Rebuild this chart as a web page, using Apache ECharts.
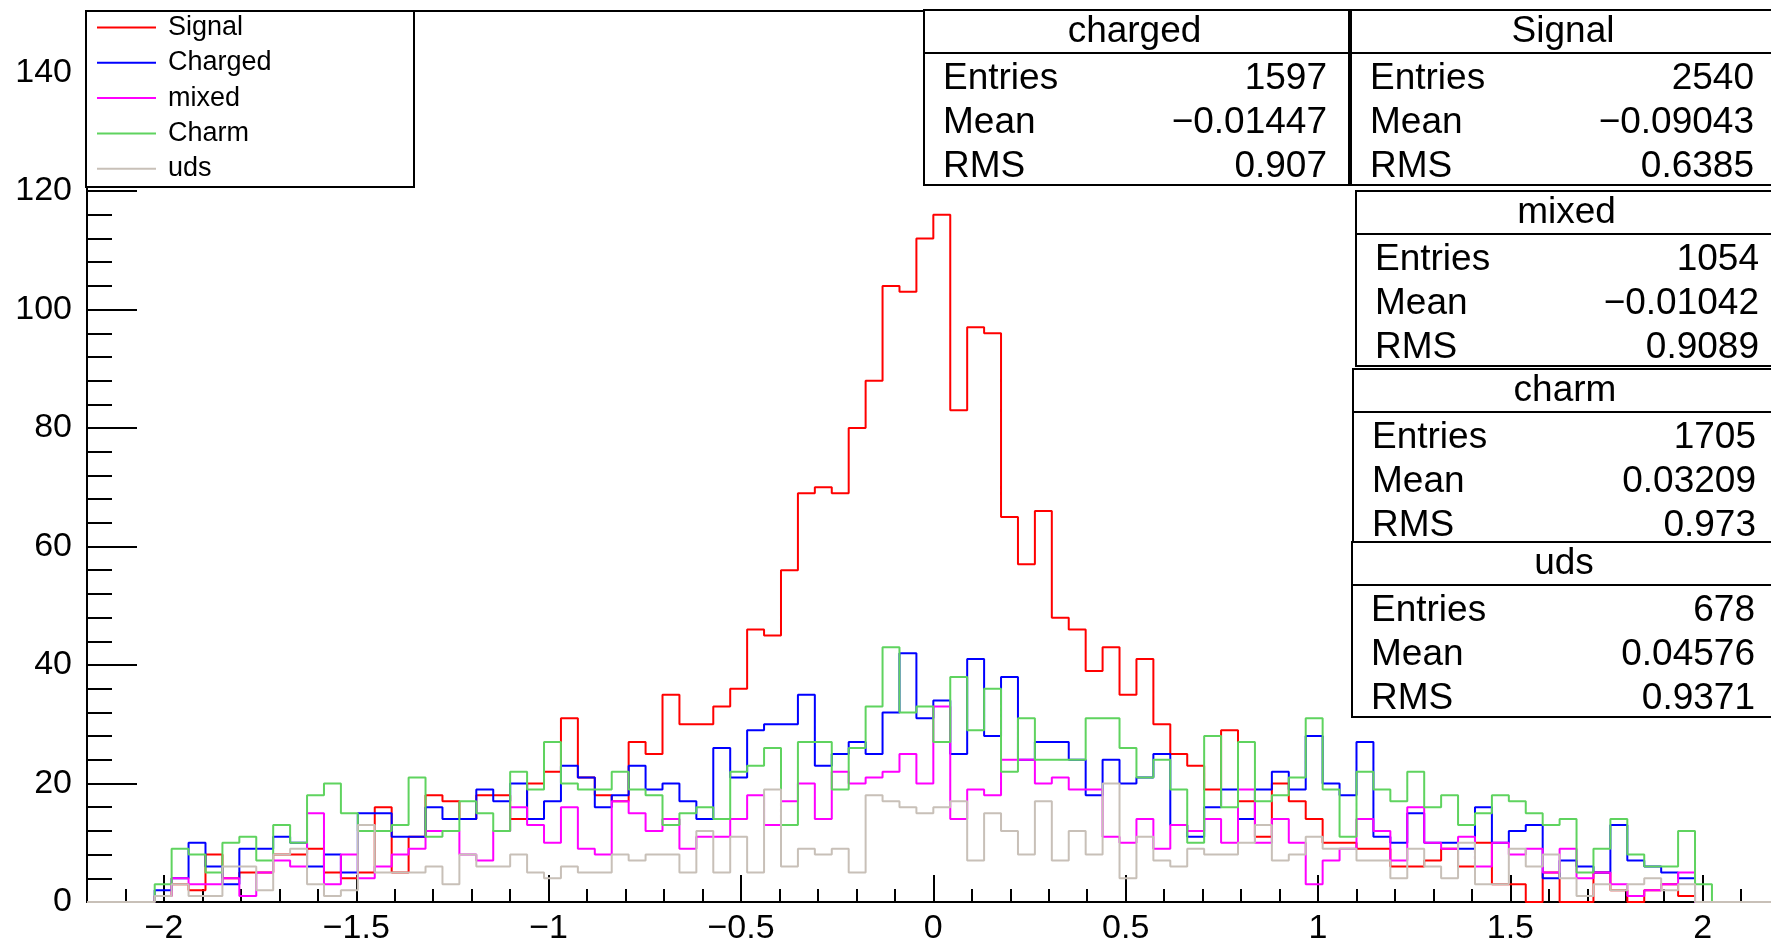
<!DOCTYPE html>
<html>
<head>
<meta charset="utf-8">
<script src="https://cdn.jsdelivr.net/npm/echarts@6/dist/echarts.min.js"></script>
<style>
  html, body { margin: 0; padding: 0; background: #ffffff; }
  #chart { width: 1771px; height: 941px; }
</style>
</head>
<body>
<div id="chart"></div>
<script>
// Histogram binning: 100 bins on [-2.2, 2.2]; bins before firstFilledBin are empty
const xMin = -2.2;
const xMax = 2.2;
const nBins = 100;
const firstFilledBin = 4;
// The frame runs past the right edge of the canvas; this is the x value at the edge
const xAxisVisibleMax = 2.1775;

const seriesNames = ['Signal', 'Charged', 'mixed', 'Charm', 'uds'];
const seriesColors = ['#ff0000', '#0000ff', '#ff00ff', '#5fd35f', '#c8c0b8'];

// Bin contents starting at bin firstFilledBin
const signal = [
  1, 3, 2, 8, 4, 5, 5, 8, 8, 9, 5, 4, 5, 16, 5, 11,
  18, 17, 14, 18, 18, 14, 20, 22, 31, 21, 18, 17, 27, 25,
  35, 30, 30, 33, 36, 46, 45, 56, 69, 70, 69, 80, 88, 104, 103, 112,
  116, 83, 97, 96, 65, 57, 66, 48, 46, 39, 43, 35, 41, 30, 25, 23,
  19, 29, 17, 11, 20, 17, 14, 10, 10, 9, 9, 6, 6, 7, 9, 6, 10, 3, 3, 0, 5, 0, 0, 5, 2, 0, 2, 3, 1, 0
];
const charged = [
  2, 4, 10, 6, 3, 9, 9, 11, 10, 6, 8, 5, 15, 15, 11, 11,
  16, 14, 14, 19, 17, 20, 14, 17, 23, 21, 16, 18, 23, 19,
  20, 17, 14, 26, 21, 29, 30, 30, 35, 23, 25, 27, 25, 32, 42, 31,
  34, 25, 41, 28, 38, 24, 27, 27, 24, 18, 24, 20, 21, 25, 13, 11,
  16, 19, 14, 19, 22, 19, 28, 20, 18, 27, 11, 10, 15, 10, 10, 9, 16, 10, 12, 13, 4, 7, 6, 5, 13, 7, 6, 5, 4, 0
];
const mixed = [
  1, 4, 3, 3, 4, 1, 5, 7, 6, 15, 3, 8, 4, 6, 8, 9,
  12, 12, 8, 7, 12, 16, 13, 10, 16, 9, 8, 17, 15, 12,
  14, 9, 11, 11, 14, 18, 13, 17, 20, 14, 22, 20, 21, 22, 25, 20,
  33, 14, 19, 18, 24, 24, 20, 21, 19, 19, 11, 10, 14, 9, 13, 12,
  14, 10, 19, 10, 14, 10, 3, 7, 9, 14, 12, 7, 16, 10, 9, 11, 6, 10, 8, 9, 5, 9, 4, 5, 3, 1, 2, 3, 5, 0
];
const charm = [
  3, 9, 8, 5, 10, 11, 7, 13, 10, 18, 20, 15, 12, 12, 13, 21,
  11, 12, 17, 15, 12, 22, 19, 27, 20, 19, 19, 22, 19, 18,
  13, 15, 16, 14, 22, 23, 26, 13, 27, 27, 19, 26, 33, 43, 32, 33,
  27, 38, 29, 36, 22, 31, 24, 24, 24, 31, 31, 26, 21, 24, 19, 10,
  28, 16, 27, 17, 18, 21, 31, 19, 11, 22, 19, 17, 22, 16, 18, 13, 15, 18, 17, 15, 13, 14, 5, 9, 14, 8, 6, 6, 12, 3
];
const uds = [
  1, 3, 1, 1, 6, 6, 2, 8, 9, 3, 1, 2, 13, 5, 5, 5,
  6, 3, 8, 6, 6, 8, 5, 4, 6, 5, 5, 8, 7, 8,
  8, 5, 12, 5, 11, 5, 19, 6, 9, 8, 9, 5, 18, 17, 16, 15,
  16, 17, 7, 15, 12, 8, 17, 7, 12, 8, 20, 4, 11, 7, 6, 9,
  8, 8, 10, 13, 7, 8, 11, 9, 9, 7, 7, 4, 9, 6, 4, 10, 3, 3, 9, 6, 8, 4, 1, 3, 2, 3, 4, 2, 3, 0
];

// Tick labels
const xMajorTicks = [-2, -1.5, -1, -0.5, 0, 0.5, 1, 1.5, 2];
const yMajorTicks = [0, 20, 40, 60, 80, 100, 120, 140];

// Statistics boxes
const statTitles = ['charged', 'Signal', 'mixed', 'charm', 'uds'];
const statEntries = ['1597', '2540', '1054', '1705', '678'];
const statMeans = ['\u22120.01447', '\u22120.09043', '\u22120.01042', '0.03209', '0.04576'];
const statRms = ['0.907', '0.6385', '0.9089', '0.973', '0.9371'];

const FONT = "'Liberation Sans', Arial, Helvetica, sans-serif";

// Minor tick positions (every 0.1 on x, every 4 on y)
const xMinorTicks = [];
for (let k = -22; k <= 22; k++) if (k % 5 !== 0) xMinorTicks.push(k / 10);
const yMinorTicks = [];
for (let k = 1; k <= 37; k++) if (k % 5 !== 0) yMinorTicks.push(k * 4);

const binWidth = (xMax - xMin) / nBins;

// Step outline through all bin edges, empty bins lying on zero
function histPoints(values) {
  const pts = [];
  for (let i = 0; i < nBins; i++) {
    const j = i - firstFilledBin;
    const v = (j >= 0 && j < values.length) ? values[j] : 0;
    pts.push([xMin + i * binWidth, v]);
  }
  pts.push([xMax, 0]);
  return pts;
}

const allValues = [signal, charged, mixed, charm, uds];
const series = allValues.map((vals, idx) => ({
  name: seriesNames[idx],
  type: 'line',
  step: 'end',
  symbol: 'none',
  silent: true,
  xAxisIndex: 0,
  yAxisIndex: 0,
  lineStyle: { color: seriesColors[idx], width: 2 },
  itemStyle: { color: seriesColors[idx] },
  data: histPoints(vals),
  z: 2 + idx * 0.01
}));

const fmtMinus = v => String(v).replace('-', '\u2212');

// Stats box frames
const statBoxPos = [
  { x: 924, y: 10, w: 425 },
  { x: 1351, y: 10, w: 428 },
  { x: 1356, y: 191, w: 425 },
  { x: 1353, y: 369, w: 428 },
  { x: 1352, y: 542, w: 428 }
];
const boxH = 175;
const graphics = [];

// Top edge of the frame
graphics.push({
  type: 'line', z: 5,
  shape: { x1: 87, y1: 11, x2: 1771, y2: 11 },
  style: { stroke: '#000000', lineWidth: 2 }
});

// Legend frame
graphics.push({
  type: 'rect', z: 50,
  shape: { x: 86, y: 11, width: 328, height: 176 },
  style: { fill: '#ffffff', stroke: '#000000', lineWidth: 2 }
});

statBoxPos.forEach((p, i) => {
  const z = 100 + i;
  graphics.push({
    type: 'rect', z: z,
    shape: { x: p.x, y: p.y, width: p.w, height: boxH },
    style: { fill: '#ffffff', stroke: '#000000', lineWidth: 2 }
  });
  graphics.push({
    type: 'line', z: z,
    shape: { x1: p.x, y1: p.y + 43, x2: p.x + p.w, y2: p.y + 43 },
    style: { stroke: '#000000', lineWidth: 2 }
  });
  graphics.push({
    type: 'text', z: z,
    x: p.x + p.w / 2 - 2, y: p.y + 22,
    style: { text: statTitles[i], fill: '#000', font: '37px ' + FONT, align: 'center', verticalAlign: 'middle' }
  });
  const rows = [['Entries', statEntries[i]], ['Mean', statMeans[i]], ['RMS', statRms[i]]];
  rows.forEach((r, k) => {
    const cy = p.y + 69 + k * 44;
    graphics.push({
      type: 'text', z: z,
      x: p.x + 19, y: cy,
      style: { text: r[0], fill: '#000', font: '37px ' + FONT, align: 'left', verticalAlign: 'middle' }
    });
    graphics.push({
      type: 'text', z: z,
      x: p.x + 403, y: cy,
      style: { text: r[1], fill: '#000', font: '37px ' + FONT, align: 'right', verticalAlign: 'middle' }
    });
  });
});

const chart = echarts.init(document.getElementById('chart'), null, { renderer: 'canvas' });

chart.setOption({
  animation: false,
  backgroundColor: '#ffffff',
  grid: { left: 87, top: 11, width: 1684, height: 891, show: false, outerBoundsMode: 'none', containLabel: false },
  legend: {
    orient: 'vertical',
    left: 92, top: 7.5,
    icon: 'rect',
    itemWidth: 59, itemHeight: 2,
    itemGap: 5.3,
    selectedMode: false,
    z: 60,
    data: seriesNames,
    textStyle: { fontSize: 27, fontFamily: FONT, color: '#000', lineHeight: 30, padding: [0, 0, 0, 7] }
  },
  xAxis: [
    {
      type: 'value', min: xMin, max: xAxisVisibleMax, position: 'bottom',
      axisLine: { show: true, onZero: false, lineStyle: { color: '#000', width: 2 } },
      axisTick: { show: true, inside: true, length: 27, customValues: xMajorTicks, lineStyle: { color: '#000', width: 2 } },
      axisLabel: { show: true, customValues: xMajorTicks, formatter: fmtMinus, fontSize: 34, fontFamily: FONT, color: '#000', margin: 10 },
      splitLine: { show: false }
    },
    {
      type: 'value', min: xMin, max: xAxisVisibleMax, position: 'bottom',
      axisLine: { show: false, onZero: false },
      axisTick: { show: true, inside: true, length: 13, customValues: xMinorTicks, lineStyle: { color: '#000', width: 2 } },
      axisLabel: { show: false },
      splitLine: { show: false }
    }
  ],
  yAxis: [
    {
      type: 'value', min: 0, max: 150.4, position: 'left',
      axisLine: { show: true, onZero: false, lineStyle: { color: '#000', width: 2 } },
      axisTick: { show: true, inside: true, length: 50, customValues: yMajorTicks, lineStyle: { color: '#000', width: 2 } },
      axisLabel: { show: true, customValues: yMajorTicks, fontSize: 34, fontFamily: FONT, color: '#000', margin: 15 },
      splitLine: { show: false }
    },
    {
      type: 'value', min: 0, max: 150.4, position: 'left',
      axisLine: { show: false, onZero: false },
      axisTick: { show: true, inside: true, length: 25, customValues: yMinorTicks, lineStyle: { color: '#000', width: 2 } },
      axisLabel: { show: false },
      splitLine: { show: false }
    }
  ],
  series: series,
  graphic: graphics
});
</script>
</body>
</html>
